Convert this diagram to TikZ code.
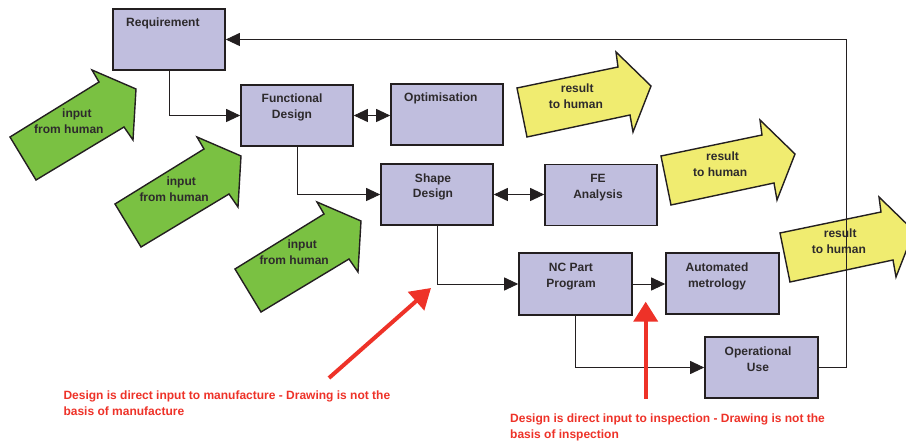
\documentclass[tikz,border=0pt]{standalone}
\usepackage{fontspec}
\setmainfont{Liberation Sans}
\usetikzlibrary{arrows.meta}
\definecolor{boxfill}{RGB}{192,190,222}
\definecolor{edge}{RGB}{35,31,32}
\definecolor{txt}{RGB}{45,42,44}
\definecolor{grn}{RGB}{122,193,66}
\definecolor{ylw}{RGB}{240,236,112}
\definecolor{rd}{RGB}{238,50,40}
\begin{document}
\begin{tikzpicture}[x=1pt,y=-1pt,
  box/.style={draw=edge, fill=boxfill, line width=1.6pt, minimum width=112pt, minimum height=61pt, inner sep=0pt},
  lbl/.style={font=\bfseries\fontsize{12}{15.7}\selectfont, text=txt, align=center, inner sep=0pt},
  lbll/.style={lbl, align=left, anchor=west},
  conn/.style={draw=edge, line width=0.9pt, -{Triangle[length=14pt,width=13pt]}},
  dconn/.style={draw=edge, line width=0.9pt, {Triangle[length=14pt,width=13pt]}-{Triangle[length=14pt,width=13pt]}},
  blk/.style={draw=edge, line width=1.4pt, line join=miter},
  redarrow/.style={draw=rd, line width=4pt, -{Triangle[length=20pt,width=24pt]}},
  redtxt/.style={font=\bfseries\fontsize{12}{15.7}\selectfont, text=rd, align=left, anchor=west, inner sep=0pt}
]
\clip (0,0) rectangle (906,443);
\fill[white] (0,0) rectangle (906,443);

% green input arrows
\foreach \dx/\dy in {0/0, 105/67, 225/132}{
  \draw[blk, fill=grn, shift={(\dx,\dy)}] (10,137) -- (99,82) -- (92,70) -- (136,89) -- (133,140) -- (124,127) -- (36,180) -- cycle;
}
% yellow result arrows
\foreach \dx/\dy in {0/0, 144/68, 263/145}{
  \draw[blk, fill=ylw, shift={(\dx,\dy)}] (517,88) -- (618,67) -- (616,52) -- (651,86) -- (633,132) -- (630,115) -- (527,137) -- cycle;
}

% boxes
\node[box] (req) at (169,39.5) {};
\node[box] (fd)  at (297,115.5) {};
\node[box] (opt) at (447,114.5) {};
\node[box] (sd)  at (437,194.5) {};
\node[box] (fe)  at (601,195) {};
\node[box, minimum width=113pt, minimum height=62pt] (nc) at (575.5,284) {};
\node[box, minimum width=113pt] (am) at (722.5,283.5) {};
\node[box, minimum width=113pt] (op) at (761.5,367.5) {};

% box texts
\node[lbll] (reqt) at (126,23.5) {Requirement};
\node[lbl] (fdt) at (292,107.5) {Functional\\Design};
\node[lbll] (optt) at (404,98.5) {Optimisation};
\node[lbl] (sdt) at (433,186.8) {Shape\\Design};
\node[lbl] (fet) at (598,187.5) {FE\\Analysis};
\node[lbl] (nct) at (571,276.5) {NC Part\\Program};
\node[lbl] (amt) at (717,276.5) {Automated\\metrology};
\node[lbl] (opt2) at (758,359.5) {Operational\\Use};

% arrow texts
\node[lbll] (g1) at (34,121) {\hspace*{28pt}input\\from human};
\node[lbll] (g2) at (139.3,189) {\hspace*{27pt}input\\from human};
\node[lbll] (g3) at (259.3,252.5) {\hspace*{28pt}input\\from human};
\node[lbll] (y1) at (548.7,96) {\hspace*{12pt}result\\to human};
\node[lbll] (y2) at (693,164) {\hspace*{13pt}result\\to human};
\node[lbll] (y3) at (811.7,241.5) {\hspace*{12pt}result\\to human};

% connectors
\draw[conn] (req.south) |- (fd.west);
\draw[dconn] (fd.east) -- (fd.east -| opt.west);
\draw[conn] (fd.south) |- (sd.west);
\draw[dconn] (sd.east) -- (sd.east -| fe.west);
\draw[conn] (sd.south) |- (nc.west);
\draw[conn] (nc.east) -- (nc.east -| am.west);
\draw[conn] (nc.south) |- (op.west);
\coordinate (ret) at (846,367.5);
\draw[conn] (op.east) -- (ret) |- (req.east);

% red annotations
\coordinate (r1s) at (329,378);
\coordinate (r1e) at (431,288);
\coordinate (r2s) at (645.7,399);
\coordinate (r2e) at (645.7,301.7);
\draw[redarrow] (r1s) -- (r1e);
\draw[redarrow] (r2s) -- (r2e);
\node[redtxt] (t1) at (63.3,403.5) {Design is direct input to manufacture - Drawing is not the\\basis of manufacture};
\node[redtxt] (t2) at (510,427.5) {Design is direct input to inspection - Drawing is not the\\basis of inspection};
\end{tikzpicture}
\end{document}
